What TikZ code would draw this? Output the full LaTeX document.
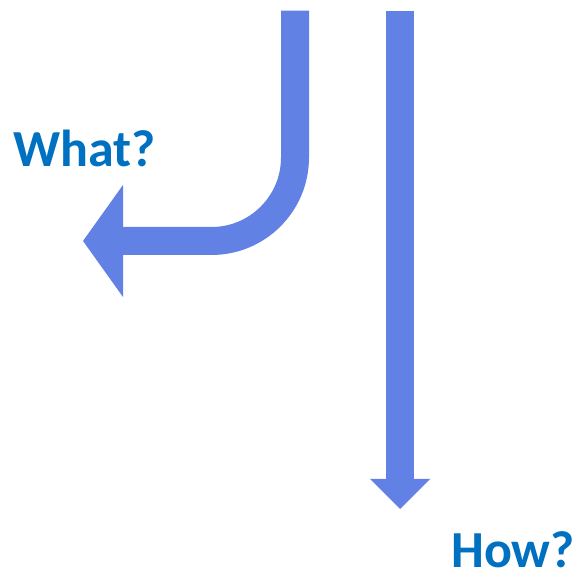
\documentclass[tikz,border=0pt]{standalone}
\usepackage{fontspec}
\setmainfont{Carlito}
\usepackage{xcolor}
\usepackage{tikz}
\usetikzlibrary{arrows.meta}
\definecolor{arrowblue}{RGB}{98,129,228}
\definecolor{textblue}{RGB}{0,112,192}

\begin{document}
\begin{tikzpicture}[x=1pt,y=1pt,>=Stealth,
  bigarrow/.style={draw=arrowblue,line width=28pt,line cap=butt},
  question/.style={anchor=base west,inner sep=0pt,text=textblue,font=\fontsize{52}{58}\selectfont\bfseries}]
  \useasboundingbox (0,0) rectangle (577,578);
  % start and end points of the two arrows
  \coordinate (whattop) at (295,567.3);
  \coordinate (whattip) at (83,337);
  \coordinate (howtop) at (400,567.3);
  \coordinate (howtip) at (400,69);
  \draw[bigarrow,rounded corners=83.5pt,-{Triangle[width=112pt,length=40pt,line width=0pt]}] (whattop) |- (whattip);
  \draw[bigarrow,-{Triangle[width=60pt,length=30pt,line width=0pt]}] (howtop) -- (howtip);
  % labels
  \node[question] (what) at (13,411) {What?};
  \node[question] (how) at (451,10) {How?};
\end{tikzpicture}
\end{document}
